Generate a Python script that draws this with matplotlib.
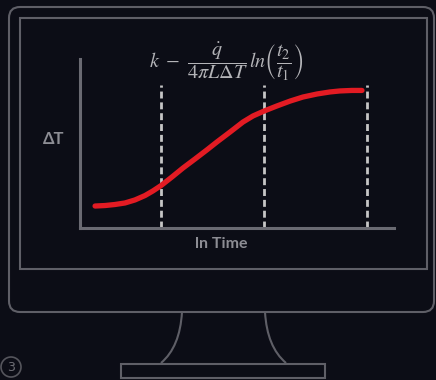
"""Monitor illustration: ΔT vs ln(time) heating curve with three dashed time markers."""

import matplotlib
matplotlib.use("Agg")
import matplotlib.pyplot as plt
from matplotlib.patches import FancyBboxPatch, Rectangle, Circle, PathPatch
from matplotlib.path import Path

# curve (x: ln time, y: delta T), arbitrary 0..10 units
ln_time = [0.48, 0.80, 1.11, 1.43, 1.75, 2.07, 2.32, 2.58, 2.93, 3.28, 3.66,
           4.04, 4.36, 4.78, 5.19, 5.51, 5.86, 6.27, 6.69, 7.10, 7.55, 7.96,
           8.28, 8.66, 8.98]
delta_t = [1.30, 1.33, 1.39, 1.48, 1.66, 1.92, 2.19, 2.51, 3.02, 3.55, 4.08,
           4.62, 5.09, 5.68, 6.27, 6.63, 6.92, 7.22, 7.51, 7.75, 7.93, 8.05,
           8.11, 8.14, 8.14]
markers = [2.58, 5.86, 9.14]
marker_top = 8.46

formula = r"$k\ -\ \dfrac{\dot{q}}{4\pi L\Delta T}\,ln\left(\dfrac{t_2}{t_1}\right)$"
ylabel = "ΔT"
xlabel = "ln Time"
slide_no = "3"

BG = "#0c0d16"
GRAY = "#5f5f67"
AXIS = "#6a6a72"
TEXT = "#8d8d94"
RED = "#e31b23"
DASH = "#c6c6c6"

W, H = 436, 380
fig = plt.figure(figsize=(W / 100, H / 100), dpi=100, facecolor=BG)

# monitor drawing in pixel coords
bg = fig.add_axes([0, 0, 1, 1])
bg.set_xlim(0, W); bg.set_ylim(H, 0); bg.axis("off")
bg.set_facecolor(BG)
bg.add_patch(FancyBboxPatch((9, 7), 425, 305, boxstyle="round,pad=0,rounding_size=11",
                            fill=False, ec=GRAY, lw=1.5))
bg.add_patch(Rectangle((20, 18), 407, 251, fill=False, ec=GRAY, lw=1.5))
neck = Path([(182, 312), (180, 347), (161, 363), (286, 363), (267, 347), (265, 312)],
            [Path.MOVETO, Path.CURVE3, Path.CURVE3, Path.MOVETO, Path.CURVE3, Path.CURVE3])
bg.add_patch(PathPatch(neck, fill=False, ec=GRAY, lw=1.5))
bg.add_patch(Rectangle((121, 364), 204, 14, fill=False, ec=GRAY, lw=1.5))
bg.add_patch(Circle((11, 367), 10, fill=False, ec="#55555c", lw=1.2))
bg.text(11, 367.5, slide_no, color="#6e6e75", fontsize=9, ha="center", va="center")

bg.text(226, 62, formula, color="#b4b4b8", fontsize=14.5, ha="center", va="center",
        math_fontfamily="stix")
bg.text(54, 139, ylabel, color=TEXT, fontsize=12, fontweight="bold",
        family=["Lato", "DejaVu Sans"], ha="center", va="center")
bg.text(221, 244, xlabel, color=TEXT, fontsize=11.5, fontweight="bold",
        family=["Lato", "DejaVu Sans"], ha="center", va="center")

# chart axes
ax = fig.add_axes([80 / W, (H - 228) / H, 314 / W, 169 / H])
ax.set_facecolor("none")
ax.set_xlim(0, 10); ax.set_ylim(0, 10)
for s in ("top", "right"):
    ax.spines[s].set_visible(False)
for s in ("left", "bottom"):
    ax.spines[s].set_color(AXIS)
    ax.spines[s].set_linewidth(2.2)
ax.set_xticks([]); ax.set_yticks([])

ax.vlines(markers, 0, marker_top, colors=DASH, lw=2, linestyles=(0, (2.5, 1.4)), zorder=2)
ax.plot(ln_time, delta_t, color=RED, lw=3.8, solid_capstyle="round",
        solid_joinstyle="round", zorder=3)

fig.savefig("out.png", dpi=100, facecolor=BG)
